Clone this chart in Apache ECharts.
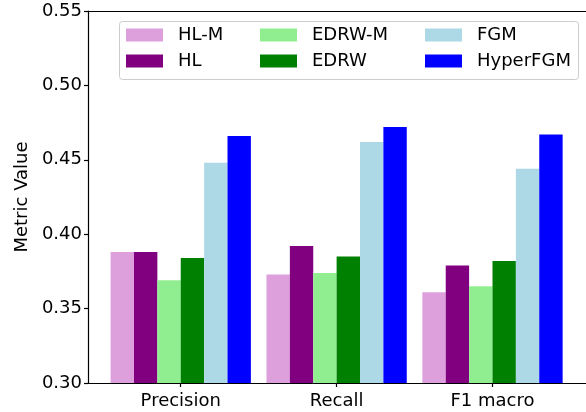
<!DOCTYPE html>
<html>
<head>
<meta charset="utf-8">
<script src="https://cdn.jsdelivr.net/npm/echarts@6/dist/echarts.min.js"></script>
<style>html,body{margin:0;padding:0;background:#fff}#c{width:586px;height:412px}</style>
</head>
<body>
<div id="c"></div>
<script>
const categories = ['Precision', 'Recall', 'F1 macro'];
const seriesNames = ['HL-M', 'HL', 'EDRW-M', 'EDRW', 'FGM', 'HyperFGM'];
const seriesColors = ['#dda0dd', '#800080', '#90ee90', '#008000', '#add8e6', '#0000ff'];
const hlm = [0.388, 0.373, 0.361];
const hl = [0.388, 0.392, 0.379];
const edrwm = [0.369, 0.374, 0.365];
const edrw = [0.384, 0.385, 0.382];
const fgm = [0.448, 0.462, 0.444];
const hyperfgm = [0.466, 0.472, 0.467];
const yTicks = [0.30, 0.35, 0.40, 0.45, 0.50, 0.55];

const seriesValues = [hlm, hl, edrwm, edrw, fgm, hyperfgm];
const font = 'DejaVu Sans';
const fs = 18;
const chart = echarts.init(document.getElementById('c'), null, {renderer: 'canvas'});

const legendCols = [[0, 1], [2, 3], [4, 5]];
const legendLeft = [126, 260, 425];
const legends = legendCols.map((idx, i) => ({
  data: idx.map(k => seriesNames[k]),
  orient: 'vertical',
  left: legendLeft[i],
  top: 26,
  itemWidth: 37,
  itemHeight: 13,
  itemGap: 8,
  padding: 0,
  selectedMode: false,
  textStyle: {fontFamily: font, fontSize: fs, lineHeight: 18, color: '#000', padding: [0, 0, 0, 10]},
  icon: 'rect',
  z: 10
}));

const xMin = -0.595;
const xMax = -0.595 + 500 / 156.5;

chart.setOption({
  animation: false,
  backgroundColor: '#fff',
  textStyle: {fontFamily: font},
  grid: {left: 88, right: -2, top: 11, bottom: 29, show: false},
  graphic: [{
    type: 'rect', left: 119, top: 21,
    shape: {width: 459, height: 58, r: 3},
    style: {fill: 'rgba(255,255,255,0.8)', stroke: '#cccccc', lineWidth: 1},
    z: 5
  }],
  legend: legends,
  xAxis: [{
    type: 'value',
    min: xMin,
    max: xMax,
    splitLine: {show: false},
    axisLine: {show: true, onZero: false, lineStyle: {color: '#000', width: 1.2}},
    axisTick: {show: true, customValues: [0, 1, 2], length: 4, lineStyle: {color: '#000', width: 1.2}},
    axisLabel: {
      customValues: [0, 1, 2],
      formatter: v => categories[Math.round(v)],
      fontFamily: font, fontSize: fs, color: '#000', margin: 9
    }
  }, {
    type: 'value',
    position: 'top',
    min: xMin,
    max: xMax,
    splitLine: {show: false},
    axisLine: {show: true, onZero: false, lineStyle: {color: '#000', width: 1.2}},
    axisTick: {show: false},
    axisLabel: {show: false}
  }],
  yAxis: {
    type: 'value',
    min: 0.30, max: 0.55, interval: 0.05,
    name: 'Metric Value',
    nameLocation: 'middle',
    nameGap: 55,
    nameTextStyle: {fontFamily: font, fontSize: fs, color: '#000'},
    splitLine: {show: false},
    axisLine: {show: true, onZero: false, lineStyle: {color: '#000', width: 1.2}},
    axisTick: {show: true, length: 4, lineStyle: {color: '#000', width: 1.2}},
    axisLabel: {
      formatter: v => v.toFixed(2),
      fontFamily: font, fontSize: fs, color: '#000', margin: 6
    }
  },
  series: seriesNames.map((name, i) => ({
    name: name,
    type: 'bar',
    xAxisIndex: 0,
    barWidth: '15%',
    barGap: '0%',
    itemStyle: {color: seriesColors[i]},
    data: categories.map((c, j) => [j, seriesValues[i][j]])
  }))
});
</script>
</body>
</html>
